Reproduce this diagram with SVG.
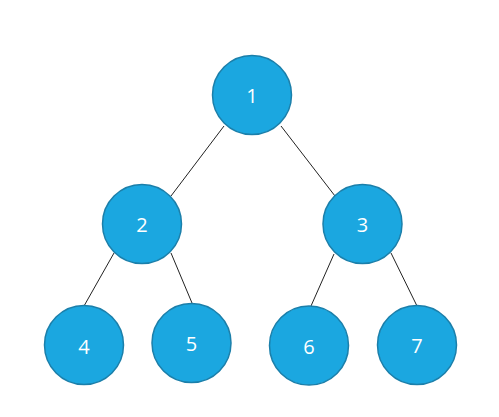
<svg xmlns="http://www.w3.org/2000/svg" width="499" height="417" viewBox="0 0 499 417">
<style>
.n{fill:#1BA7E0;stroke:#1B7FAA;stroke-width:1.5}
.t{fill:#fff;font-family:"Open Sans","Liberation Sans",sans-serif;font-size:20px;text-anchor:middle;dominant-baseline:central}
.e{stroke:#222;stroke-width:1;fill:none}
</style>
<rect width="499" height="417" fill="#fff"/>
<g id="edges">
<line class="e" x1="224" y1="126" x2="171" y2="196"/>
<line class="e" x1="281" y1="126" x2="335" y2="196"/>
<line class="e" x1="114" y1="253" x2="84" y2="306"/>
<line class="e" x1="171" y1="253" x2="192" y2="303"/>
<line class="e" x1="334" y1="254" x2="311" y2="306"/>
<line class="e" x1="391" y1="253" x2="417" y2="306"/>
</g>
<g id="n1"><circle class="n" cx="252" cy="95" r="39.5"/><text class="t" x="252" y="95">1</text></g>
<g id="n2"><circle class="n" cx="142" cy="224" r="39.5"/><text class="t" x="142" y="224">2</text></g>
<g id="n3"><circle class="n" cx="362.5" cy="224" r="39.5"/><text class="t" x="362.5" y="224">3</text></g>
<g id="n4"><circle class="n" cx="84" cy="345" r="39.5"/><text class="t" x="84" y="346">4</text></g>
<g id="n5"><circle class="n" cx="191.5" cy="343" r="39.5"/><text class="t" x="191.5" y="343">5</text></g>
<g id="n6"><circle class="n" cx="309" cy="345.5" r="39.5"/><text class="t" x="309" y="346">6</text></g>
<g id="n7"><circle class="n" cx="417" cy="345" r="39.5"/><text class="t" x="417" y="345">7</text></g>
</svg>
